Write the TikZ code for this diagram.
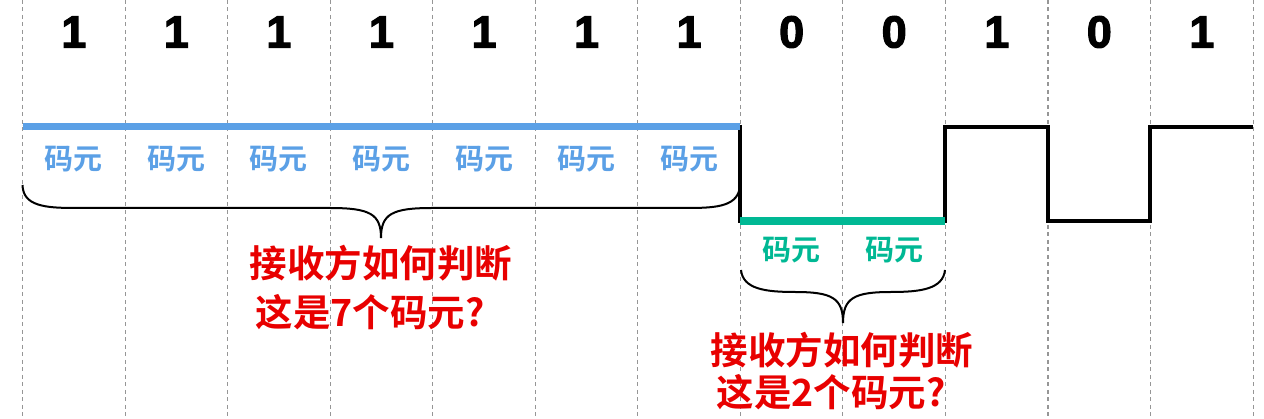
\documentclass[tikz,border=0pt]{standalone}
\usepackage{fontspec}
\setmainfont{Liberation Sans}
\newfontfamily\cjk{Noto Sans CJK SC Bold}
\newfontfamily\heavy{Liberation Sans Bold}[FakeBold=2.5]
\definecolor{sigblue}{RGB}{91,160,230}
\definecolor{siggreen}{RGB}{0,184,148}
\definecolor{qred}{RGB}{232,0,0}
\definecolor{gridgray}{RGB}{150,150,150}
\tikzset{
  grid/.style={draw=gridgray, line width=1.1pt, dash pattern=on 4pt off 3.5pt},
  bit/.style={font=\heavy\fontsize{45}{48}\selectfont, text=black, inner sep=0pt},
  bluelbl/.style={font=\cjk\fontsize{29}{32}\selectfont, text=sigblue, inner sep=0pt},
  greenlbl/.style={font=\cjk\fontsize{29}{32}\selectfont, text=siggreen, inner sep=0pt},
  question/.style={font=\cjk\fontsize{37.5}{40}\selectfont, text=qred, inner sep=0pt},
  wave/.style={draw=black, line width=3.6pt, line join=miter},
  brace/.style={draw=black, line width=2pt},
}
\begin{document}
\begin{tikzpicture}[x=1pt,y=-1pt]
\useasboundingbox (0,0) rectangle (1264,419);
% grid lines
\foreach \i in {0,...,12} {
  \draw[grid] ({22.5+102.55*\i},0) -- ({22.5+102.55*\i},419);
}
% bits
\foreach \b [count=\i from 0] in {1,1,1,1,1,1,1,0,0,1,0,1} {
  \node[bit] (b\i) at ({22.5+102.55*\i+51.3},32) {\b};
}
% waveform
\coordinate (w0) at (22.5,127);
\coordinate (w1) at (740,127);
\coordinate (w2) at (740,221);
\coordinate (w3) at (945,221);
\coordinate (w4) at (945,127);
\coordinate (w5) at (1048,127);
\coordinate (w6) at (1048,221);
\coordinate (w7) at (1150,221);
\coordinate (w8) at (1150,127);
\coordinate (w9) at (1253,127);
\draw[wave] (w0) -- (w1) -- (w2) -- (w3) -- (w4) -- (w5) -- (w6) -- (w7) -- (w8) -- (w9);
\draw[draw=sigblue, line width=7pt] (w0) -- (w1);
\draw[draw=siggreen, line width=7.5pt] (w2) -- (w3);
% labels
\foreach \i in {0,...,6} {
  \node[bluelbl] (l\i) at ({22.5+102.55*\i+51.3},159) {码元};
}
\node[greenlbl] (g0) at (791.5,250) {码元};
\node[greenlbl] (g1) at (894,250) {码元};
% brace 1
\draw[brace] (22.5,185) .. controls (23,206) and (45,208) .. (75,208)
  -- (330,208) .. controls (370,208) and (381,214) .. (381,238)
  .. controls (381,214) and (392,208) .. (432,208)
  -- (688,208) .. controls (718,208) and (739,206) .. (740,185);
% brace 2
\draw[brace] (741,270) .. controls (743,289) and (765,292) .. (795,292)
  .. controls (832,292) and (843,298) .. (843,323)
  .. controls (843,298) and (854,292) .. (891,292)
  .. controls (921,292) and (943,289) .. (945,270);
% questions
\node[question] (q1a) at (381,263) {接收方如何判断};
\node[question] (q1b) at (370,312) {这是7个码元?};
\node[question] (q2a) at (842,350) {接收方如何判断};
\node[question] (q2b) at (831,392) {这是2个码元?};
\end{tikzpicture}
\end{document}
